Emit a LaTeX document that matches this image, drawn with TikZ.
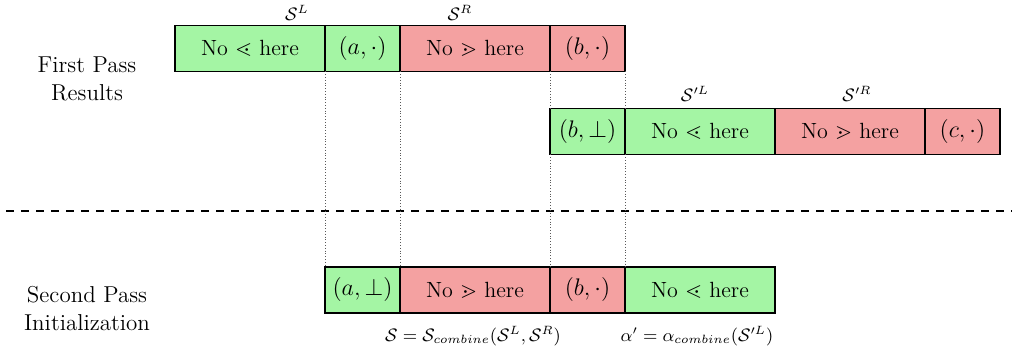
\documentclass[tikz,border=0pt]{standalone}
\usepackage{amssymb}
\usetikzlibrary{calc}
\definecolor{gbox}{RGB}{164,245,164}
\definecolor{rbox}{RGB}{244,161,161}
\newcommand{\mbx}[1]{{\fontsize{12.4}{14}\selectfont$#1$}}
\tikzset{
  cell/.style={draw=black, line width=0.6pt, minimum height=23pt, inner sep=0pt, outer sep=0pt, anchor=center, font=\fontsize{11}{13}\selectfont},
  wide/.style={cell, minimum width=75pt},
  narrow/.style={cell, minimum width=37.5pt},
  grn/.style={fill=gbox},
  red/.style={fill=rbox},
  guide/.style={densely dotted, gray!70!black, line width=0.4pt},
  sep/.style={line width=0.75pt, dash pattern=on 4pt off 3.5pt},
  rowlabel/.style={align=center, font=\fontsize{11.5}{14}\selectfont},
  setlabel/.style={font=\small},
}
\begin{document}
\begin{tikzpicture}[x=0.5pt,y=-0.5pt]
\useasboundingbox (0,0) rectangle (1017,352);
% row 1
\node[wide,grn]   (r1a) at (250,48.5)   {No $\lessdot$ here};
\node[narrow,grn] (r1b) at (362.5,48.5) {\mbx{(a,\cdot)}};
\node[wide,red]   (r1c) at (475,48.5)   {No $\gtrdot$ here};
\node[narrow,red] (r1d) at (587.5,48.5) {\mbx{(b,\cdot)}};
% row 2
\node[narrow,grn] (r2a) at (587.5,131.5) {\mbx{(b,\bot)}};
\node[wide,grn]   (r2b) at (700,131.5)   {No $\lessdot$ here};
\node[wide,red]   (r2c) at (850,131.5)   {No $\gtrdot$ here};
\node[narrow,red] (r2d) at (962.5,131.5) {\mbx{(c,\cdot)}};
% row 3
\node[narrow,grn] (r3a) at (362.5,290) {\mbx{(a,\bot)}};
\node[wide,red]   (r3b) at (475,290)   {No $\gtrdot$ here};
\node[narrow,red] (r3c) at (587.5,290) {\mbx{(b,\cdot)}};
\node[wide,grn]   (r3d) at (700,290)   {No $\lessdot$ here};
% set labels
\node[setlabel] (sL)  at (297,13)  {$\mathcal{S}^L$};
\node[setlabel] (sR)  at (460,13)  {$\mathcal{S}^R$};
\node[setlabel] (spL) at (695,94)  {$\mathcal{S}'^L$};
\node[setlabel] (spR) at (857,94)  {$\mathcal{S}'^R$};
\node[setlabel] (f1)  at (473,336) {$\mathcal{S} = \mathcal{S}_{combine}(\mathcal{S}^L,\mathcal{S}^R)$};
\node[setlabel] (f2)  at (697,336) {$\alpha' = \alpha_{combine}(\mathcal{S}'^L)$};
% row labels
\node[rowlabel] (t1) at (87,79)  {First Pass\\Results};
\node[rowlabel] (t2) at (87,309) {Second Pass\\Initialization};
% separator
\coordinate (dl) at (6,211);
\coordinate (dr) at (1012,211);
\draw[sep] (dl) -- (dr);
% guides
\draw[guide] (r1a.south east) -- (r3a.north west);
\draw[guide] (r1b.south east) -- (r3b.north west);
\draw[guide] (r1c.south east) -- (r2a.north west);
\draw[guide] (r2a.south west) -- (r3c.north west);
\draw[guide] (r1d.south east) -- (r2b.north west);
\draw[guide] (r2b.south west) -- (r3d.north west);
\end{tikzpicture}
\end{document}
